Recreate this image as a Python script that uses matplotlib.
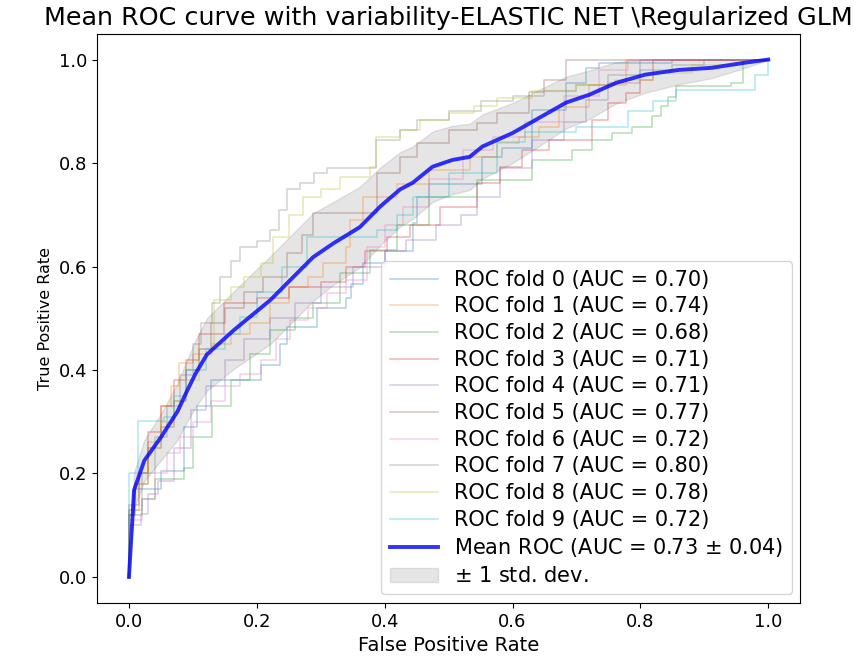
import numpy as np
import matplotlib
matplotlib.use('Agg')
import matplotlib.pyplot as plt

# AUC por fold
aucs = [0.70, 0.74, 0.68, 0.71, 0.71, 0.77, 0.72, 0.80, 0.78, 0.72]

# Curvas ROC por fold (esquinas)
fpr_0 = [0, 0, 0.008, 0.05, 0.086, 0.107, 0.128, 0.206, 0.237, 0.247, 0.294, 0.34, 0.347, 0.366, 0.4, 0.444, 0.45, 0.47, 0.553, 0.584, 0.63, 0.684, 0.715, 0.735, 0.85, 1]
tpr_0 = [0, 0.12, 0.17, 0.205, 0.29, 0.33, 0.38, 0.41, 0.45, 0.483, 0.52, 0.54, 0.567, 0.607, 0.63, 0.684, 0.735, 0.76, 0.812, 0.83, 0.903, 0.955, 0.984, 0.994, 1.0, 1]
fpr_1 = [0, 0, 0.015, 0.03, 0.05, 0.065, 0.078, 0.1, 0.13, 0.16, 0.19, 0.22, 0.25, 0.28, 0.304, 0.34, 0.346, 0.366, 0.42, 0.47, 0.533, 0.575, 0.61, 0.642, 0.673, 0.72, 0.777, 1]
tpr_1 = [0, 0.13, 0.2, 0.26, 0.33, 0.37, 0.413, 0.43, 0.45, 0.47, 0.49, 0.53, 0.56, 0.58, 0.607, 0.638, 0.69, 0.735, 0.76, 0.787, 0.812, 0.839, 0.85, 0.87, 0.909, 0.95, 1.0, 1]
fpr_2 = [0, 0, 0.02, 0.04, 0.086, 0.1, 0.13, 0.16, 0.19, 0.221, 0.26, 0.288, 0.33, 0.377, 0.42, 0.47, 0.544, 0.6, 0.63, 0.693, 0.724, 0.755, 0.787, 0.818, 0.833, 0.844, 0.855, 0.942, 0.96, 1]
tpr_2 = [0, 0.12, 0.15, 0.19, 0.21, 0.27, 0.33, 0.38, 0.43, 0.477, 0.5, 0.529, 0.587, 0.632, 0.68, 0.735, 0.767, 0.767, 0.806, 0.826, 0.845, 0.858, 0.87, 0.89, 0.91, 0.928, 0.948, 0.955, 1.0, 1]
fpr_3 = [0, 0, 0.01, 0.03, 0.05, 0.07, 0.09, 0.11, 0.148, 0.2, 0.25, 0.3, 0.34, 0.37, 0.403, 0.44, 0.486, 0.544, 0.58, 0.615, 0.657, 0.724, 0.75, 0.777, 0.8, 0.82, 1]
tpr_3 = [0, 0.12, 0.18, 0.28, 0.33, 0.38, 0.42, 0.47, 0.529, 0.54, 0.56, 0.57, 0.6, 0.63, 0.657, 0.68, 0.715, 0.762, 0.793, 0.826, 0.845, 0.884, 0.917, 0.936, 0.96, 1.0, 1]
fpr_4 = [0, 0, 0.019, 0.03, 0.045, 0.07, 0.097, 0.12, 0.15, 0.18, 0.22, 0.26, 0.3, 0.35, 0.4, 0.434, 0.48, 0.52, 0.544, 0.58, 0.63, 0.68, 0.715, 0.75, 0.8, 1]
tpr_4 = [0, 0.1, 0.122, 0.16, 0.186, 0.25, 0.322, 0.37, 0.42, 0.46, 0.5, 0.53, 0.56, 0.6, 0.63, 0.651, 0.68, 0.7, 0.735, 0.79, 0.845, 0.88, 0.922, 0.955, 1.0, 1]
fpr_5 = [0, 0, 0.015, 0.03, 0.05, 0.07, 0.09, 0.11, 0.128, 0.15, 0.18, 0.21, 0.247, 0.27, 0.288, 0.366, 0.388, 0.424, 0.45, 0.5, 0.545, 0.575, 0.626, 0.65, 0.684, 1]
tpr_5 = [0, 0.14, 0.2, 0.25, 0.29, 0.34, 0.4, 0.44, 0.49, 0.52, 0.55, 0.58, 0.626, 0.66, 0.703, 0.703, 0.78, 0.812, 0.839, 0.864, 0.878, 0.897, 0.938, 0.96, 1.0, 1]
fpr_6 = [0, 0, 0.02, 0.04, 0.06, 0.08, 0.1, 0.128, 0.15, 0.174, 0.206, 0.23, 0.252, 0.28, 0.31, 0.34, 0.372, 0.4, 0.428, 0.47, 0.522, 0.57, 0.62, 0.68, 0.735, 0.78, 1]
tpr_6 = [0, 0.11, 0.15, 0.2, 0.24, 0.27, 0.3, 0.34, 0.37, 0.393, 0.42, 0.46, 0.496, 0.52, 0.548, 0.574, 0.638, 0.68, 0.715, 0.77, 0.826, 0.85, 0.88, 0.93, 0.98, 1.0, 1]
fpr_7 = [0, 0, 0.02, 0.04, 0.06, 0.08, 0.1, 0.112, 0.13, 0.143, 0.16, 0.174, 0.2, 0.22, 0.235, 0.247, 0.268, 0.29, 0.31, 0.38, 0.387, 0.424, 0.45, 0.5, 0.55, 0.6, 0.65, 0.7, 0.75, 0.8, 0.85, 0.9, 1]
tpr_7 = [0, 0.13, 0.2, 0.27, 0.33, 0.39, 0.45, 0.49, 0.53, 0.58, 0.61, 0.638, 0.65, 0.67, 0.71, 0.75, 0.762, 0.78, 0.79, 0.79, 0.845, 0.864, 0.884, 0.9, 0.92, 0.93, 0.94, 0.95, 0.97, 0.98, 0.99, 1.0, 1]
fpr_8 = [0, 0, 0.01, 0.03, 0.05, 0.07, 0.09, 0.11, 0.133, 0.16, 0.18, 0.206, 0.226, 0.25, 0.273, 0.3, 0.33, 0.377, 0.387, 0.424, 0.455, 0.5, 0.54, 0.575, 0.63, 0.7, 0.76, 0.82, 0.88, 0.95, 1]
tpr_8 = [0, 0.12, 0.18, 0.25, 0.3, 0.34, 0.38, 0.44, 0.535, 0.56, 0.58, 0.607, 0.657, 0.7, 0.735, 0.75, 0.773, 0.793, 0.85, 0.864, 0.884, 0.897, 0.91, 0.926, 0.94, 0.95, 0.96, 0.975, 0.99, 1.0, 1]
fpr_9 = [0, 0, 0.014, 0.055, 0.07, 0.09, 0.12, 0.15, 0.174, 0.2, 0.24, 0.279, 0.388, 0.42, 0.444, 0.5, 0.575, 0.62, 0.7, 0.75, 0.78, 0.82, 0.855, 0.969, 0.98, 1.0]
tpr_9 = [0, 0.2, 0.302, 0.31, 0.35, 0.4, 0.44, 0.47, 0.502, 0.55, 0.6, 0.657, 0.67, 0.7, 0.735, 0.78, 0.84, 0.86, 0.87, 0.87, 0.9, 0.92, 0.942, 0.942, 0.97, 1.0]

fprs = [fpr_0, fpr_1, fpr_2, fpr_3, fpr_4, fpr_5, fpr_6, fpr_7, fpr_8, fpr_9]
tprs = [tpr_0, tpr_1, tpr_2, tpr_3, tpr_4, tpr_5, tpr_6, tpr_7, tpr_8, tpr_9]

# Curva media y desviacion
mean_fpr = [0, 0.008, 0.024, 0.05, 0.076, 0.091, 0.105, 0.122, 0.164, 0.221, 0.288, 0.32, 0.361, 0.393, 0.424, 0.444, 0.475, 0.506, 0.533, 0.553, 0.6, 0.637, 0.684, 0.72, 0.762, 0.808, 0.86, 0.911, 0.964, 1.0]
mean_tpr = [0, 0.168, 0.225, 0.27, 0.32, 0.36, 0.395, 0.43, 0.477, 0.535, 0.618, 0.645, 0.676, 0.716, 0.749, 0.762, 0.793, 0.806, 0.812, 0.832, 0.858, 0.884, 0.917, 0.932, 0.955, 0.971, 0.98, 0.984, 0.994, 1.0]
std_tpr = [0.02, 0.035, 0.04, 0.045, 0.055, 0.06, 0.065, 0.07, 0.075, 0.085, 0.085, 0.08, 0.078, 0.075, 0.072, 0.07, 0.068, 0.066, 0.064, 0.062, 0.058, 0.055, 0.05, 0.047, 0.04, 0.035, 0.028, 0.02, 0.01, 0.0]
mean_auc = 0.73
std_auc = 0.04

fig = plt.figure(figsize=(8.66, 6.61), dpi=100)
ax = fig.add_axes([0.112, 0.088, 0.812, 0.861])

for i in range(10):
    ax.plot(fprs[i], tprs[i], lw=1.1, alpha=0.35, drawstyle='steps-post',
            label='ROC fold %d (AUC = %0.2f)' % (i, aucs[i]))

ax.plot(mean_fpr, mean_tpr, color='b', lw=2.8, alpha=0.8,
        label=r'Mean ROC (AUC = %0.2f $\pm$ %0.2f)' % (mean_auc, std_auc))

upper = np.minimum(np.array(mean_tpr) + np.array(std_tpr), 1)
lower = np.maximum(np.array(mean_tpr) - np.array(std_tpr), 0)
ax.fill_between(mean_fpr, lower, upper, color='grey', alpha=0.2, label=r'$\pm$ 1 std. dev.')

ax.set_xlim(-0.05, 1.05)
ax.set_ylim(-0.05, 1.05)
ax.tick_params(labelsize=13)
ax.set_xlabel('False Positive Rate', fontsize=14)
ax.set_ylabel('True Positive Rate', fontsize=11.5)
ax.set_title(r'Mean ROC curve with variability-ELASTIC NET \Regularized GLM',
             fontsize=18.3)
ax.legend(loc='lower right', fontsize=15, labelspacing=0.32,
          handlelength=2.3, handletextpad=0.8, borderaxespad=0.4)

fig.savefig('out.png', dpi=100)
